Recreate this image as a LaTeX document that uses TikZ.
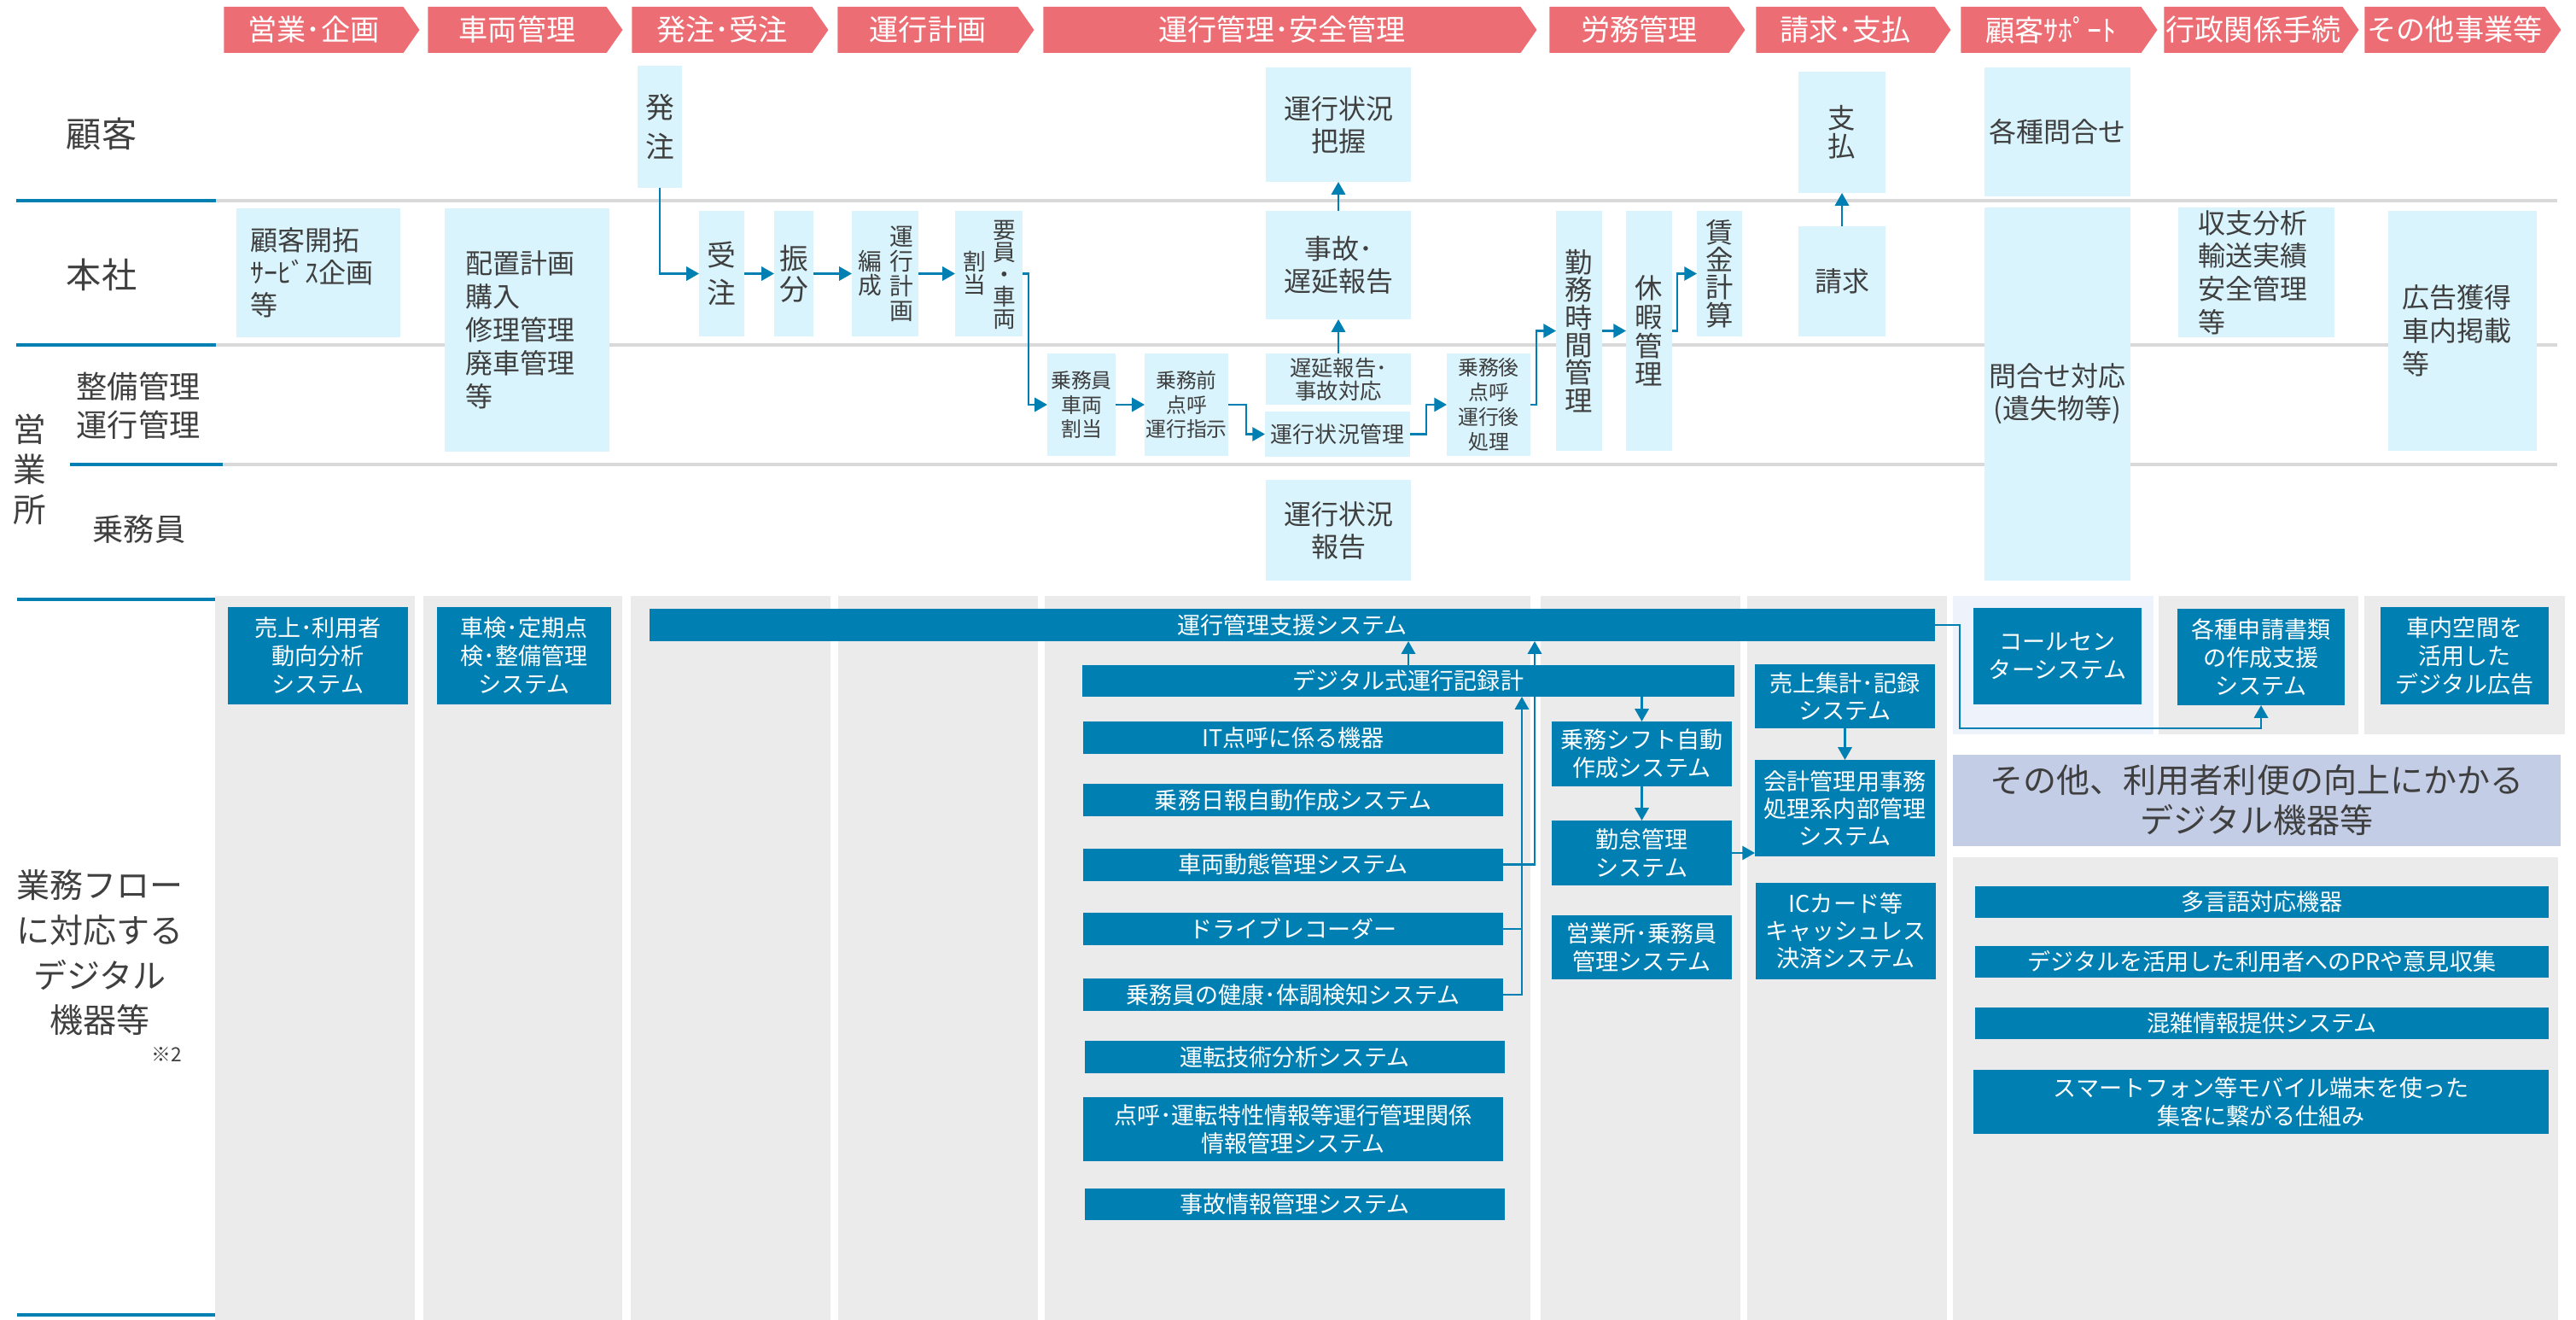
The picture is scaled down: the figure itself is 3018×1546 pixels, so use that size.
\documentclass[tikz,border=0pt]{standalone}
\usepackage{fontspec}
\setmainfont{Noto Sans CJK JP}
\usetikzlibrary{positioning, arrows.meta, shapes.symbols}

\definecolor{hdrpink}{HTML}{EC6E74}
\definecolor{lightcyan}{HTML}{D9F4FD}
\definecolor{sysblue}{HTML}{0080B2}
\definecolor{colgray}{HTML}{EBEBEB}
\definecolor{lanegray}{HTML}{D9D9D9}
\definecolor{txtgray}{HTML}{3F3F3F}
\definecolor{callbg}{HTML}{EEF2FA}
\definecolor{otherbg}{HTML}{C3CDE5}

\newcommand{\fsz}[2]{\fontsize{#1}{#2}\selectfont}

\begin{document}
\begin{tikzpicture}[
    x=0.01cm, y=-0.01cm,
    wh/.style 2 args={minimum width=#1*0.01cm, minimum height=#2*0.01cm},
    hdr/.style={signal, signal to=east, signal from=nowhere, signal pointer angle=110, fill=hdrpink, text=white, inner sep=0pt, outer sep=0pt, font=\fsz{9.7}{11}},
    ubox/.style={fill=lightcyan, text=txtgray, inner sep=0pt, outer sep=0pt, align=center, font=\fsz{9.1}{10.8}},
    lbox/.style 2 args={ubox, align=left, inner xsep=#1*0.01cm, text width=#2*0.01cm},
    vbox/.style={ubox, font=\fsz{9.2}{9.2}},
    sbox/.style={ubox, font=\fsz{6.8}{8}},
    vlabel/.style={text=txtgray, inner sep=0pt, align=center},
    dbox/.style={fill=sysblue, text=white, inner sep=0pt, outer sep=0pt, align=center, font=\fsz{7.7}{9.4}},
    lanelabel/.style={text=txtgray, inner sep=0pt, align=center, font=\fsz{11.7}{14}},
    laneline/.style={draw=lanegray, line width=1.3pt},
    laneblue/.style={draw=sysblue, line width=1.3pt},
    conn/.style={draw=sysblue, line width=0.7pt},
    arr/.style={conn, -{Triangle[length=4.2pt, width=4.6pt]}}
]
\useasboundingbox (0,0) rectangle (3018,1546);

% Lower section columns
\fill[colgray] (252,698) rectangle (486,1546);
\fill[colgray] (496,698) rectangle (729,1546);
\fill[colgray] (739,698) rectangle (973,1546);
\fill[colgray] (982,698) rectangle (1216,1546);
\fill[colgray] (1224,698) rectangle (1793,1546);
\fill[colgray] (1805,698) rectangle (2039,1546);
\fill[colgray] (2047,698) rectangle (2281,1546);
\fill[callbg] (2288,698) rectangle (2523,860);
\fill[colgray] (2529,698) rectangle (2763,860);
\fill[colgray] (2770,698) rectangle (3005,860);
\fill[colgray] (2288,1004) rectangle (2997,1546);

% Lane lines
\draw[laneline] (253,235) -- (2996,235);
\draw[laneline] (253,404) -- (2996,404);
\draw[laneline] (261,544) -- (2996,544);
\draw[laneblue] (19,235) -- (253,235);
\draw[laneblue] (19,404) -- (253,404);
\draw[laneblue] (82,544) -- (261,544);
\draw[laneblue] (20,702) -- (252,702);
\draw[laneblue] (20,1540) -- (252,1540);

% Headers
\node[hdr, wh={229}{54}] (h_eigyo) at (367.5,35) {営業･企画};
\node[hdr, wh={228}{54}] (h_sharyo) at (606,35) {車両管理};
\node[hdr, wh={230}{54}] (h_hatchu) at (846,35) {発注･受注};
\node[hdr, wh={230}{54}] (h_keikaku) at (1087,35) {運行計画};
\node[hdr, wh={578}{54}] (h_anzen) at (1502,35) {運行管理･安全管理};
\node[hdr, wh={229}{54}] (h_romu) at (1920.5,35) {労務管理};
\node[hdr, wh={228}{54}] (h_seikyu) at (2162,35) {請求･支払};
\node[hdr, wh={230}{54}] (h_support) at (2403,35) {顧客ｻﾎﾟｰﾄ};
\node[hdr, wh={228}{54}] (h_gyosei) at (2640,35) {行政関係手続};
\node[hdr, wh={230}{54}] (h_sonota) at (2876,35) {その他事業等};

% Lane labels
\node[lanelabel] (l_kokyaku) at (119,157) {顧客};
\node[lanelabel] (l_honsha) at (119,322) {本社};
\node[lanelabel, font=\fsz{11}{13.4}] (l_eigyosho) at (35,550) {営\\業\\所};
\node[lanelabel, align=left, font=\fsz{10.3}{12.8}] (l_seibi) at (162,475) {整備管理\\運行管理};
\node[lanelabel, font=\fsz{10.3}{12}] (l_jomuin) at (163,620) {乗務員};
\node[lanelabel, font=\fsz{11.1}{15}] (l_digital) at (117,1116) {業務フロー\\に対応する\\デジタル\\機器等};
\node[lanelabel, font=\fsz{6.5}{7}] (l_note) at (195,1235) {※2};

% Business flow boxes
\node[lbox={16}{160}, wh={192}{151}] (kokyaku) at (373,319.5) {顧客開拓\\ｻｰﾋﾞｽ企画\\等};
\node[lbox={24}{145}, wh={193}{285}, font=\fsz{9.1}{11.1}] (haichi) at (617.5,386.5) {配置計画\\購入\\修理管理\\廃車管理\\等};
\node[vbox, wh={52}{143}, font=\fsz{9.6}{13}] (hatchu) at (773,148.5) {発\\注};
\node[vbox, wh={53}{147}, font=\fsz{9.6}{12.5}] (juchu) at (845.5,320.5) {受\\注};
\node[vbox, wh={46}{147}, font=\fsz{9.6}{10.3}] (furiwake) at (930,320.5) {振\\分};
\node[ubox, wh={78}{147}] (hensei) at (1037,320.5) {};
\node[vlabel, font=\fsz{7.9}{8.3}] (hensei_r) at (1056,321) {運\\行\\計\\画};
\node[vlabel, font=\fsz{7.9}{8}] (hensei_l) at (1019,320) {編\\成};
\node[ubox, wh={79}{147}] (wariate) at (1158.5,320.5) {};
\node[vlabel, font=\fsz{7.6}{7.4}] (wariate_r) at (1177,321.5) {要\\員\\・\\車\\両};
\node[vlabel, font=\fsz{7.6}{7.8}] (wariate_l) at (1142,320) {割\\当};
\node[sbox, wh={80}{120}] (joumuin) at (1267,474) {乗務員\\車両\\割当};
\node[sbox, wh={98}{120}] (jomuzen) at (1390,474) {乗務前\\点呼\\運行指示};
\node[ubox, wh={170}{134}] (haaku) at (1568,146) {運行状況\\把握};
\node[ubox, wh={170}{127}] (jiko) at (1568,310.5) {事故･\\遅延報告};
\node[ubox, wh={170}{60}, font=\fsz{7.2}{6.4}] (chien) at (1568,444) {遅延報告･\\事故対応};
\node[ubox, wh={170}{53}, font=\fsz{7.4}{8}] (jokyo) at (1567,508.5) {運行状況管理};
\node[ubox, wh={170}{118}] (hokoku) at (1568,621) {運行状況\\報告};
\node[sbox, wh={98}{120}, font=\fsz{6.8}{8.2}] (jomugo) at (1744,474) {乗務後\\点呼\\運行後\\処理};
\node[vbox, wh={54}{281}] (kinmu) at (1850,387.5) {勤\\務\\時\\間\\管\\理};
\node[vbox, wh={54}{281}, font=\fsz{9.2}{9.6}] (kyuka) at (1932,387.5) {休\\暇\\管\\理};
\node[vbox, wh={53}{147}] (chingin) at (2014.5,320.5) {賃\\金\\計\\算};
\node[vbox, wh={102}{142}, font=\fsz{9.2}{9.5}] (shiharai) at (2158,155) {支\\払};
\node[ubox, wh={102}{129}] (seikyu) at (2158,329.5) {請求};
\node[ubox, wh={171}{151}] (toiawase) at (2410.5,154.5) {各種問合せ};
\node[ubox, wh={171}{437}] (taio) at (2410.5,461.5) {問合せ対応\\(遺失物等)};
\node[lbox={23}{137}, wh={183}{152}, font=\fsz{9.1}{11}] (shushi) at (2643.5,319) {収支分析\\輸送実績\\安全管理\\等};
\node[lbox={16}{142}, wh={174}{281}, font=\fsz{9.1}{11.1}] (kokoku) at (2885,387.5) {広告獲得\\車内掲載\\等};

% Flow connections
\draw[arr] (hatchu.south) |- (juchu.west);
\draw[arr] (juchu) -- (furiwake);
\draw[arr] (furiwake) -- (hensei);
\draw[arr] (hensei) -- (wariate);
\draw[arr] (wariate.east) -- ++(7,0) |- (joumuin.west);
\draw[arr] (joumuin) -- (jomuzen);
\draw[arr] (jomuzen.east) -- ++(21,0) |- (jokyo.west);
\draw[arr] (jokyo.east) -- ++(19,0) |- (jomugo.west);
\draw[arr] (jomugo.east) -- ++(7,0) |- (kinmu.west);
\draw[arr] (kinmu) -- (kyuka);
\draw[arr] (kyuka.east) -- ++(6,0) |- (chingin.west);
\draw[arr] (chien) -- (jiko);
\draw[arr] (jiko) -- (haaku);
\draw[arr] (seikyu) -- (shiharai);

% Digital systems
\node[dbox, wh={211}{114}] (uriage) at (372.5,768) {売上･利用者\\動向分析\\システム};
\node[dbox, wh={204}{114}] (shaken) at (614,768) {車検･定期点\\検･整備管理\\システム};
\node[dbox, wh={1506}{38}] (shien) at (1514,732) {運行管理支援システム};
\node[dbox, wh={764}{37}] (tacho) at (1650,797.5) {デジタル式運行記録計};
\node[dbox, wh={492}{38}] (itenko) at (1515,864) {IT点呼に係る機器};
\node[dbox, wh={492}{38}] (nippo) at (1515,937) {乗務日報自動作成システム};
\node[dbox, wh={492}{38}] (dotai) at (1515,1012.5) {車両動態管理システム};
\node[dbox, wh={492}{38}] (drarec) at (1515,1088) {ドライブレコーダー};
\node[dbox, wh={492}{38}] (kenko) at (1515,1165) {乗務員の健康･体調検知システム};
\node[dbox, wh={492}{38}] (gijutsu) at (1517,1238) {運転技術分析システム};
\node[dbox, wh={492}{75}] (tenko) at (1515,1322.5) {点呼･運転特性情報等運行管理関係\\情報管理システム};
\node[dbox, wh={492}{37}] (jikojoho) at (1517,1410.5) {事故情報管理システム};
\node[dbox, wh={211}{76}] (shift) at (1923.5,883) {乗務シフト自動\\作成システム};
\node[dbox, wh={211}{76}] (kintai) at (1923.5,999) {勤怠管理\\システム};
\node[dbox, wh={211}{75}] (eigyosho) at (1923.5,1109.5) {営業所･乗務員\\管理システム};
\node[dbox, wh={211}{75}, font=\fsz{7.7}{9.1}] (urishu) at (2161.5,815.5) {売上集計･記録\\システム};
\node[dbox, wh={211}{113}, font=\fsz{7.7}{9.1}] (kaikei) at (2161.5,946.5) {会計管理用事務\\処理系内部管理\\システム};
\node[dbox, wh={211}{113}, font=\fsz{7.7}{9.1}] (iccard) at (2162.5,1090.5) {ICカード等\\キャッシュレス\\決済システム};
\node[dbox, wh={197}{113}] (callc) at (2410.5,768.5) {コールセン\\ターシステム};
\node[dbox, wh={196}{113}] (shinsei) at (2649,769.5) {各種申請書類\\の作成支援\\システム};
\node[dbox, wh={197}{114}] (shanai) at (2887.5,768) {車内空間を\\活用した\\デジタル広告};
\node[fill=otherbg, text=txtgray, inner sep=0pt, align=center, wh={712}{107}, font=\fsz{11.1}{13.4}] (sonota) at (2644,937.5) {その他、利用者利便の向上にかかる\\デジタル機器等};
\node[dbox, wh={672}{37}] (tagengo) at (2650,1056.5) {多言語対応機器};
\node[dbox, wh={672}{37}] (prbox) at (2650,1126.5) {デジタルを活用した利用者へのPRや意見収集};
\node[dbox, wh={672}{37}] (konzatsu) at (2650,1198.5) {混雑情報提供システム};
\node[dbox, wh={674}{75}] (smart) at (2649,1290.5) {スマートフォン等モバイル端末を使った\\集客に繋がる仕組み};

% System connections
\coordinate (bus_r) at (1798,0);
\coordinate (bus_l) at (1783,0);
\coordinate (cc_turn) at (2296,853);
\draw[arr] (tacho.north) -- (tacho.north |- shien.south);
\draw[arr] (dotai.east) -| (bus_r |- shien.south);
\draw[arr] (kenko.east) -| (bus_l |- tacho.south);
\draw[conn] (drarec.east) -- (bus_l |- drarec.east);
\draw[arr] (shift.north |- tacho.south) -- (shift.north);
\draw[arr] (shift) -- (kintai);
\draw[arr] (kintai.east) -- (kintai.east -| kaikei.west);
\draw[arr] (urishu) -- (kaikei);
\draw[arr] (shien.east) -| (cc_turn) -| (shinsei.south);

\end{tikzpicture}
\end{document}
